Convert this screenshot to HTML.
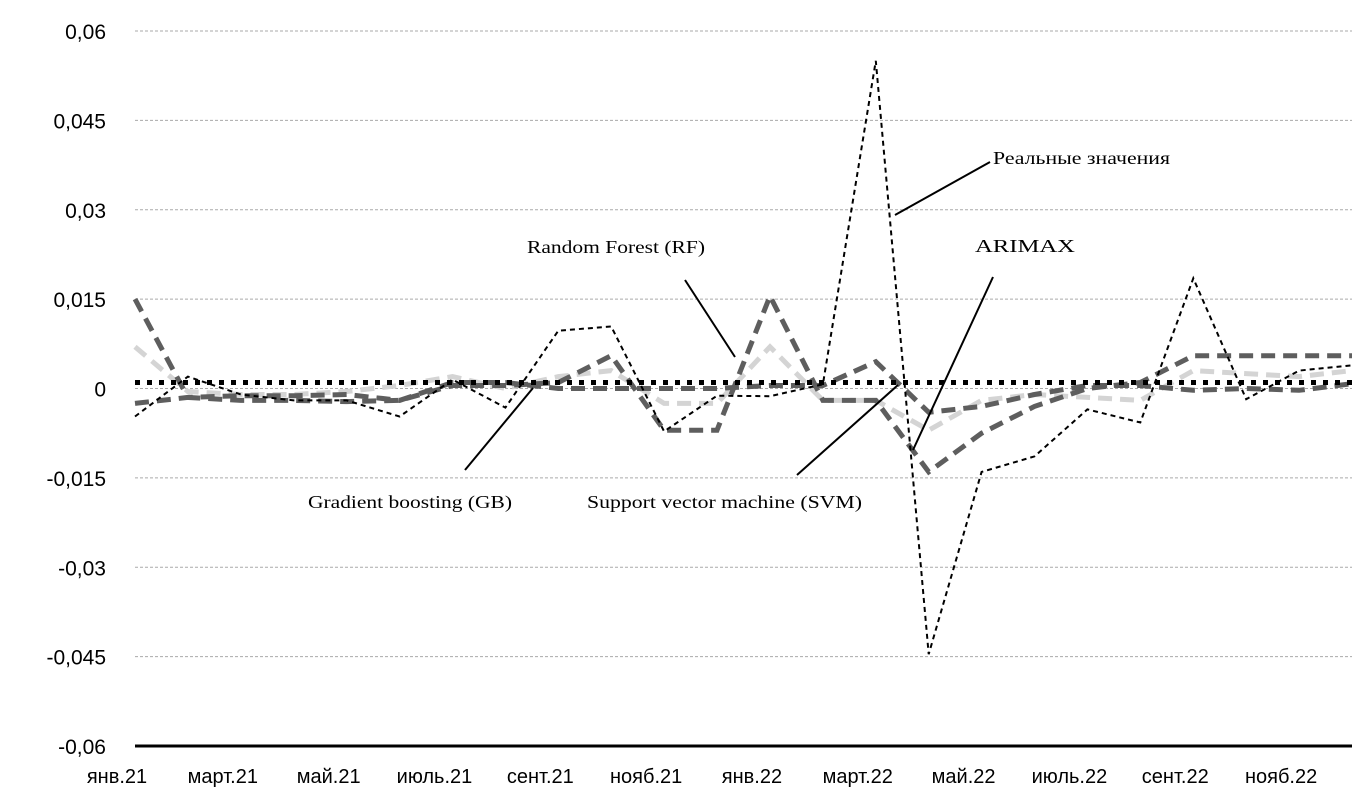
<!DOCTYPE html>
<html><head><meta charset="utf-8"><style>
body{margin:0;background:#fff;}
svg{display:block;}
</style></head><body>
<svg id="c" width="1371" height="805" xmlns="http://www.w3.org/2000/svg">
<g id="grid"></g><g id="series"></g><g id="ann"></g>
</svg>
<script>
const categories=["янв.21","февр.21","март.21","апр.21","май.21","июнь.21","июль.21","авг.21","сент.21","окт.21","нояб.21","дек.21","янв.22","февр.22","март.22","апр.22","май.22","июнь.22","июль.22","авг.22","сент.22","окт.22","нояб.22","дек.22"];
const realValues=[-0.0047,0.002,-0.001,-0.002,-0.002,-0.0047,0.0015,-0.0032,0.0097,0.0104,-0.0072,-0.0012,-0.0013,0.0007,0.055,-0.0446,-0.014,-0.0114,-0.0035,-0.0057,0.0185,-0.0018,0.003,0.0039];
const arimaxValues=[0.001,0.001,0.001,0.001,0.001,0.001,0.001,0.001,0.001,0.001,0.001,0.001,0.001,0.001,0.001,0.001,0.001,0.001,0.001,0.001,0.001,0.001,0.001,0.001];
const gbValues=[0.015,-0.0015,-0.002,-0.002,-0.0022,-0.002,0.0005,0.0005,0.001,0.0055,-0.007,-0.007,0.0155,-0.002,-0.002,-0.014,-0.0075,-0.003,0,0.001,0.0055,0.0055,0.0055,0.0055];
const svmValues=[-0.0025,-0.0015,-0.0012,-0.0012,-0.001,-0.002,0.001,0.001,0,0,0,0,0.0005,0.0005,0.0045,-0.004,-0.003,-0.001,0.0005,0.0005,-0.0003,0,-0.0003,0.0008];
const rfValues=[0.007,-0.0005,-0.001,-0.001,-0.0005,0.0005,0.002,0,0.002,0.003,-0.0025,-0.0025,0.007,-0.002,-0.002,-0.007,-0.002,-0.001,-0.0015,-0.002,0.003,0.0025,0.002,0.003];
const yTicks=[0.06,0.045,0.03,0.015,0,-0.015,-0.03,-0.045,-0.06];
const yTickLabels=["0,06","0,045","0,03","0,015","0","-0,015","-0,03","-0,045","-0,06"];
const xTickLabels=["янв.21","март.21","май.21","июль.21","сент.21","нояб.21","янв.22","март.22","май.22","июль.22","сент.22","нояб.22"];

const NS="http://www.w3.org/2000/svg";
const X0=135,X1=1352,Y0=31,Y1=746;
const xs=i=>X0+i*(X1-X0)/(categories.length-1);
const ys=v=>Y1-(v+0.06)/0.12*(Y1-Y0);
function mk(tag,attrs,parent){const e=document.createElementNS(NS,tag);for(const k in attrs)e.setAttribute(k,attrs[k]);parent.appendChild(e);return e;}
const grid=document.getElementById('grid'),ser=document.getElementById('series'),ann=document.getElementById('ann');
yTicks.forEach((t,i)=>{
  if(t!==-0.06){const l=mk('line',{x1:X0,x2:X1,y1:ys(t),y2:ys(t),stroke:'#aaa','stroke-width':1,'stroke-dasharray':'3,2'},grid);
  
  }
  const tx=mk('text',{x:106,y:ys(t)+8,'text-anchor':'end','font-family':'Liberation Sans, sans-serif','font-size':21,fill:'#000'},grid);
  tx.textContent=yTickLabels[i];
  
  
});
const ax=mk('line',{x1:X0,x2:X1,y1:Y1,y2:Y1,stroke:'#000','stroke-width':3},grid);


xTickLabels.forEach((s,i)=>{
  const tx=mk('text',{x:xs(i*2)-18,y:783,'text-anchor':'middle','font-family':'Liberation Sans, sans-serif','font-size':20,fill:'#000'},grid);
  tx.textContent=s;
  
  
});
function line(vals,stroke,w,dash,name){
  const d=vals.map((v,i)=>(i?'L':'M')+xs(i).toFixed(1)+','+ys(v).toFixed(1)).join(' ');
  const p=mk('path',{d:d,fill:'none',stroke:stroke,'stroke-width':w,'stroke-dasharray':dash},ser);
  
  
}
line(rfValues,'#d4d4d4',5,'14,8','rf-series');
line(svmValues,'#5e5e5e',5,'14,8','svm-series');
line(gbValues,'#5e5e5e',5,'14,8','gb-series');
line(arimaxValues,'#000',5,'5,7','arimax-series');
line(realValues,'#000',2,'5,4','real-series');
const notes=[
 ["Реальные значения",993,164,895,215,990,162,'label-real',177],
 ["Random Forest (RF)",527,253,685,280,735,357,'label-rf',178],
 ["ARIMAX",975,252,993,277,913,450,'label-arimax',100],
 ["Gradient boosting (GB)",308,508,465,470,533,388,'label-gb',204],
 ["Support vector machine (SVM)",587,508,797,475,898,385,'label-svm',275]
];
notes.forEach(n=>{
  const l=mk('line',{x1:n[3],y1:n[4],x2:n[5],y2:n[6],stroke:'#000','stroke-width':2},ann);
  
  
  const t=mk('text',{x:n[1],y:n[2],'font-family':'Liberation Serif, serif','font-size':18,fill:'#000',textLength:n[8],lengthAdjust:'spacingAndGlyphs'},ann);
  t.textContent=n[0];
  
  
});
</script>
</body></html>
